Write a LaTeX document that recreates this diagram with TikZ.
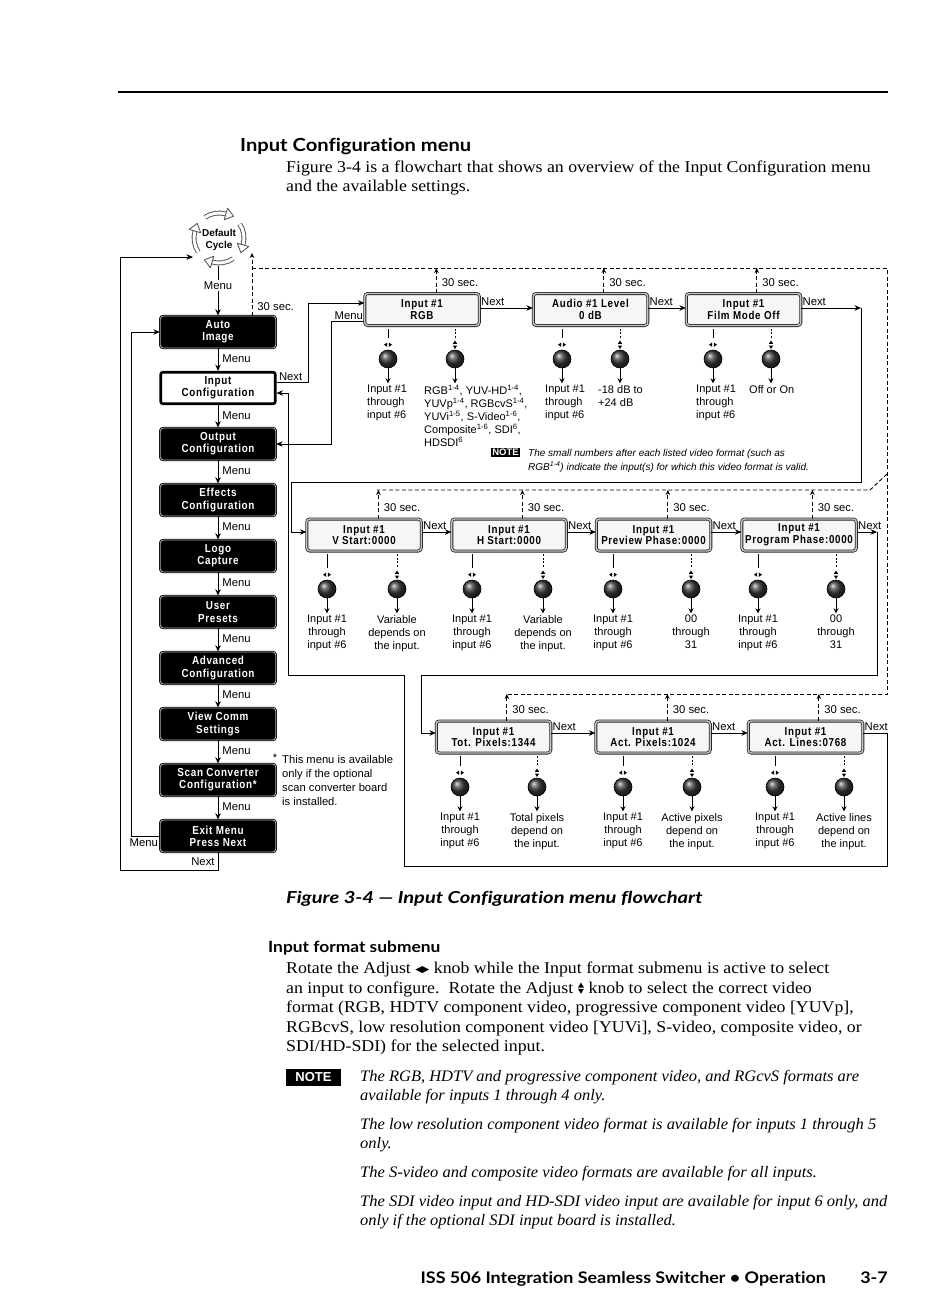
\documentclass[tikz,border=0pt]{standalone}
\usepackage{fontspec}
\setmainfont{Liberation Sans}
\newfontfamily\bodyserif[FakeStretch=1.08]{Liberation Serif}
\newfontfamily\bodyit[FakeStretch=1.03]{Liberation Serif}
\newfontfamily\headsans[FakeStretch=1.12,Ligatures=NoCommon]{Lato}
\newfontfamily\capsans[FakeStretch=1.22,Ligatures=NoCommon]{Lato}
\newfontfamily\lcdf[FakeStretch=0.85,LetterSpace=6]{Liberation Sans}
\newfontfamily\symf{DejaVu Sans}
\usetikzlibrary{arrows.meta,calc}
\newcommand\lrsym{\raisebox{0.5pt}{\symf\fontsize{9.5}{9.5}\selectfont ◀\kern-0.6pt▶}}
\tikzset{
  lbl/.style={font=\fontsize{11.3}{13}\selectfont, inner sep=0pt},
  dtxt/.style={font=\fontsize{11}{13}\selectfont, inner sep=0pt},
  conn/.style={line width=0.9pt},
  arr/.style={conn, -{Stealth[length=6.5pt,width=5.5pt]}},
  karr/.style={conn, -{Stealth[length=5pt,width=5pt]}},
  dsh/.style={line width=0.9pt, dash pattern=on 4pt off 2.5pt},
  darr/.style={dsh, -{Stealth[length=5pt,width=4.5pt]}},
  blk/.style={rounded corners=3pt, fill=black, draw=black, line width=0.8pt, double=gray!60, double distance=0.8pt, text=white, font=\lcdf\bfseries\fontsize{11.6}{12.2}\selectfont, minimum width=115.5pt, minimum height=32pt, align=center, inner sep=0pt},
  selbox/.style={rounded corners=2pt, fill=white, draw=black, line width=2.6pt, text=black, font=\lcdf\bfseries\fontsize{11.6}{12.2}\selectfont, minimum width=114.5pt, minimum height=31.5pt, align=center, inner sep=0pt},
  lcd/.style={rounded corners=3pt, fill=gray!7, draw=black!85, line width=0.8pt, double=gray!45, double distance=1.4pt, text=black, font=\lcdf\bfseries\fontsize{11.5}{11.6}\selectfont, minimum width=114.5pt, minimum height=32pt, align=center, inner sep=0pt},
  knob/.style={circle, draw=black, line width=0.6pt, shading=ball, ball color=gray!45!black, minimum size=18pt, inner sep=0pt},
  lrp/.pic={\fill (-0.8,-2.2) -- (-0.8,2.2) -- (-4,0) -- cycle; \fill (0.8,-2.2) -- (0.8,2.2) -- (4,0) -- cycle;},
  udp/.pic={\fill (-2.2,-0.8) -- (2.2,-0.8) -- (0,-4.2) -- cycle; \fill (-2.2,0.8) -- (2.2,0.8) -- (0,4.2) -- cycle;},
  udt/.pic={\fill (-3,-0.6) -- (3,-0.6) -- (0,-5.6) -- cycle; \fill (-3,0.6) -- (3,0.6) -- (0,5.6) -- cycle;}
}
\newcommand\knobL[4]{%
  \node[knob] (#1) at (#2,#3) {};
  \draw[line width=0.8pt] ($(#4.south -| #1.center)+(0,3)$) -- ($(#1.north)+(0,-12)$);
  \pic at ($(#1.north)+(0,-5)$) {lrp};
  \draw[karr] (#1.south) -- ++(0,15);
}
\newcommand\knobR[4]{%
  \node[knob] (#1) at (#2,#3) {};
  \draw[line width=0.8pt, dash pattern=on 2pt off 1.5pt] ($(#4.south -| #1.center)+(0,3)$) -- ($(#1.north)+(0,-12)$);
  \pic at ($(#1.north)+(0,-5)$) {udp};
  \draw[karr] (#1.south) -- ++(0,15);
}
\newcommand\upsec[3]{%
  \coordinate (#1u) at ($(#1.north west)+(#2,0)$);
  \draw[darr] (#1u) -- node[lbl, anchor=west, pos=0.4, xshift=5pt]{30 sec.} (#1u |- #3);
}
\begin{document}
\begin{tikzpicture}[x=1pt,y=-1pt, every node/.append style={inner sep=0pt}]
\useasboundingbox (0,0) rectangle (950,1292);
\fill[white] (0,0) rectangle (950,1292);
\draw[line width=1.6pt] (118,92) -- (888,92);

% ---------- page text top
\node[anchor=base west, font=\headsans\bfseries\fontsize{18}{20}\selectfont] (h1) at (240,152) {Input Configuration menu};
\node[anchor=base west, font=\bodyserif\fontsize{16.5}{19}\selectfont] (p1) at (286,172) {Figure 3-4 is a flowchart that shows an overview of the Input Configuration menu};
\node[anchor=base west, font=\bodyserif\fontsize{16.5}{19}\selectfont] (p2) at (286,191) {and the available settings.};

% ---------- default cycle
\coordinate (dcc) at (219,238);
\node[font=\bfseries\fontsize{10}{11.5}\selectfont, align=center] (dc) at (219,240) {Default\\Cycle};
\foreach \a in {236,326,56,146} {
  \pgfmathsetmacro\e{\a+50}
  \pgfmathsetmacro\f{\a+140}
  \draw[line width=4.8pt, black!70] ($(dcc)+(\a:25)$) arc[start angle=\a, end angle=\e, radius=25];
  \draw[line width=3pt, white] ($(dcc)+(\a:25)$) arc[start angle=\a, end angle=\e, radius=25];
  \filldraw[fill=white, draw=black!70, line width=0.8pt, line join=round] ($(dcc)+(\e:31)$) -- ($(dcc)+(\e:25)+(\f:8)$) -- ($(dcc)+(\e:19)$) -- cycle;
}

% ---------- left column
\node[blk] (n1) at (218,332) {Auto\\Image};
\node[selbox] (n2) at (218,388) {Input\\Configuration};
\node[blk] (n3) at (218,444) {Output\\Configuration};
\node[blk] (n4) at (218,500) {Effects\\Configuration};
\node[blk] (n5) at (218,556) {Logo\\Capture};
\node[blk] (n6) at (218,612) {User\\Presets};
\node[blk] (n7) at (218,668) {Advanced\\Configuration};
\node[blk] (n8) at (218,724) {View Comm\\Settings};
\node[blk] (n9) at (218,780) {Scan Converter\\Configuration*};
\node[blk] (n10) at (218,836) {Exit Menu\\Press Next};
\foreach \a/\b in {n1/n2,n2/n3,n3/n4,n4/n5,n5/n6,n6/n7,n7/n8,n8/n9,n9/n10}
  \draw[arr] (\a.south) -- node[lbl, anchor=west, xshift=4pt, yshift=1pt]{Menu} (\b.north);

\coordinate (cyb) at (218,266);
\draw[arr] (cyb) -- node[lbl, fill=white, inner sep=1.5pt, pos=0.4]{Menu} (n1.north);

\draw[arr] (n10.west) node[lbl, anchor=north east, xshift=-1.5pt, yshift=-2.5pt]{Menu} -- (131,836) -- (131,332) -- (n1.west);
\coordinate (cyl) at (193,257);
\draw[arr] (n10.south) -- node[lbl, anchor=east, xshift=-3pt]{Next} (218,870) -- (120,870) -- (120,257) -- (cyl);

\node[font=\fontsize{11}{11}\selectfont] (ast) at (275,758) {*};
\node[dtxt, font=\fontsize{11.2}{14}\selectfont, anchor=north west, align=left] (sn) at (282,755) {This menu is available\\only if the optional\\scan converter board\\is installed.};

% ---------- row 1
\node[lcd] (r1a) at (422,309.5) {Input \#1\\RGB};
\node[lcd] (r1b) at (590.5,309.5) {Audio \#1 Level\\0 dB};
\node[lcd] (r1c) at (743.5,309.5) {Input \#1\\Film Mode Off};
% ---------- row 2
\node[lcd] (r2a) at (364,535) {Input \#1\\V Start:0000};
\node[lcd] (r2b) at (509,535) {Input \#1\\H Start:0000};
\node[lcd] (r2c) at (653.5,535) {Input \#1\\Preview Phase:0000};
\node[lcd] (r2d) at (799,535) {Input \#1\\Program Phase:0000};
% ---------- row 3
\node[lcd] (r3a) at (493.5,737) {Input \#1\\Tot. Pixels:1344};
\node[lcd] (r3b) at (653,737) {Input \#1\\Act. Pixels:1024};
\node[lcd] (r3c) at (805.5,737) {Input \#1\\Act. Lines:0768};

% next arrows in rows
\draw[arr] ([yshift=1.5pt]r1a.east) node[lbl, anchor=south west, xshift=1pt, yshift=2pt]{Next} -- ([yshift=1.5pt]r1b.west);
\draw[arr] ([yshift=1.5pt]r1b.east) node[lbl, anchor=south west, xshift=1pt, yshift=2pt]{Next} -- ([yshift=1.5pt]r1c.west);
\draw[arr] ([yshift=3pt]r2a.east) node[lbl, anchor=south west, xshift=1pt, yshift=2pt]{Next} -- ([yshift=3pt]r2b.west);
\draw[arr] ([yshift=3pt]r2b.east) node[lbl, anchor=south west, xshift=1pt, yshift=2pt]{Next} -- ([yshift=3pt]r2c.west);
\draw[arr] ([yshift=3pt]r2c.east) node[lbl, anchor=south west, xshift=1pt, yshift=2pt]{Next} -- ([yshift=3pt]r2d.west);
\draw[arr] ([yshift=4pt]r3a.east) node[lbl, anchor=south west, xshift=1pt, yshift=2pt]{Next} -- ([yshift=4pt]r3b.west);
\draw[arr] ([yshift=4pt]r3b.east) node[lbl, anchor=south west, xshift=1pt, yshift=2pt]{Next} -- ([yshift=4pt]r3c.west);

% input config -> RGB
\draw[arr] ([yshift=6pt]n2.east) node[lbl, anchor=south west, xshift=2pt, yshift=1pt]{Next} -| (308,303) -- ([yshift=6.5pt]r1a.west);
% RGB menu -> output config
\draw[arr] ([yshift=-11.5pt]r1a.west) node[lbl, anchor=south east, xshift=-1pt, yshift=1pt]{Menu} -| ($(n3.east)+(55,0)$) -- (n3.east);
% film next -> row 2
\coordinate (fA) at (861,308);
\draw[arr] ([yshift=1.5pt]r1c.east) node[lbl, anchor=south west, xshift=1pt, yshift=2pt]{Next} -- (fA);
\draw[arr] (fA) -- (861,482) -- (291,482) -- (291,532) -- ([yshift=3pt]r2a.west);
% program next -> row 3
\coordinate (pA) at (877,532);
\draw[arr] ([yshift=3pt]r2d.east) node[lbl, anchor=south west, xshift=1pt, yshift=2pt]{Next} -- (pA);
\draw[arr] (pA) -- (877,675) -- (421,675) -- (421,733) -- ([yshift=4pt]r3a.west);
% act lines next -> input config
\draw[arr] ([yshift=4pt]r3c.east) node[lbl, anchor=south west, xshift=1pt, yshift=2pt]{Next} -| (887,866) -- (404,866) -- (404,675) -- (288,675) -- (288,393) -- ([yshift=-5pt]n2.east);

% ---------- dashed 30 sec network
\coordinate (dA) at (252,268);
\coordinate (dB) at (887,268);
\coordinate (dC) at (887,474);
\coordinate (dD) at (870,490);
\coordinate (dE) at (377,490);
\coordinate (dF) at (887,694);
\coordinate (dG) at (506,694);
\draw[dsh] (dA) -- (dB) -- (dF) -- (dG);
\draw[dsh] (dC) -- (dD) -- (dE);
\coordinate (n1u) at ($(n1.north)+(34,0)$);
\coordinate (cyr) at (252,253);
\draw[darr] (n1u) -- node[lbl, anchor=west, pos=0.14, xshift=5pt]{30 sec.} (cyr);
\upsec{r1a}{72}{dA}
\upsec{r1b}{71}{dA}
\upsec{r1c}{71}{dA}
\upsec{r2a}{72}{dE}
\upsec{r2b}{71}{dE}
\upsec{r2c}{72}{dE}
\upsec{r2d}{71}{dE}
\upsec{r3a}{71}{dG}
\upsec{r3b}{72}{dG}
\upsec{r3c}{71}{dG}

% ---------- knobs row 1
\knobL{k1a}{388}{359}{r1a}
\knobR{k1b}{455}{359}{r1a}
\knobL{k1c}{562}{359}{r1b}
\knobR{k1d}{620}{359}{r1b}
\knobL{k1e}{713}{359}{r1c}
\knobR{k1f}{771}{359}{r1c}
\node[dtxt, anchor=north west, align=left] (t1a) at (367,385) {Input \#1\\through\\input \#6};
\node[dtxt, anchor=north west, align=left] (t1b) at (424,385) {RGB\textsuperscript{1-4}, YUV-HD\textsuperscript{1-4},\\YUVp\textsuperscript{1-4}, RGBcvS\textsuperscript{1-4},\\YUVi\textsuperscript{1-5}, S-Video\textsuperscript{1-6},\\Composite\textsuperscript{1-6}, SDI\textsuperscript{6},\\HDSDI\textsuperscript{6}};
\node[dtxt, anchor=north west, align=left] (t1c) at (545,385) {Input \#1\\through\\input \#6};
\node[dtxt, anchor=north west, align=left] (t1d) at (598,385) {-18 dB to\\+24 dB};
\node[dtxt, anchor=north west, align=left] (t1e) at (696,385) {Input \#1\\through\\input \#6};
\node[dtxt, anchor=north west, align=left] (t1f) at (749,385) {Off or On};

\node[fill=black, text=white, font=\bfseries\fontsize{9.5}{10}\selectfont, inner xsep=1.5pt, inner ysep=1.2pt] (dn) at (505.5,452.5) {NOTE};
\node[anchor=base west, font=\itshape\fontsize{10}{12}\selectfont] (dnt1) at (528,456) {The small numbers after each listed video format (such as};
\node[anchor=base west, font=\itshape\fontsize{10}{12}\selectfont] (dnt2) at (528,470) {RGB\textsuperscript{1-4}) indicate the input(s) for which this video format is valid.};

% ---------- knobs row 2
\knobL{k2a}{327}{589}{r2a}
\knobR{k2b}{397}{589}{r2a}
\knobL{k2c}{472}{589}{r2b}
\knobR{k2d}{543}{589}{r2b}
\knobL{k2e}{613}{589}{r2c}
\knobR{k2f}{691}{589}{r2c}
\knobL{k2g}{758}{589}{r2d}
\knobR{k2h}{836}{589}{r2d}
\node[dtxt, anchor=north, align=center] (t2a) at (327,615) {Input \#1\\through\\input \#6};
\node[dtxt, anchor=north, align=center] (t2b) at (397,615) {Variable\\depends on\\the input.};
\node[dtxt, anchor=north, align=center] (t2c) at (472,615) {Input \#1\\through\\input \#6};
\node[dtxt, anchor=north, align=center] (t2d) at (543,615) {Variable\\depends on\\the input.};
\node[dtxt, anchor=north, align=center] (t2e) at (613,615) {Input \#1\\through\\input \#6};
\node[dtxt, anchor=north, align=center] (t2f) at (691,615) {00\\through\\31};
\node[dtxt, anchor=north, align=center] (t2g) at (758,615) {Input \#1\\through\\input \#6};
\node[dtxt, anchor=north, align=center] (t2h) at (836,615) {00\\through\\31};

% ---------- knobs row 3
\knobL{k3a}{460}{787}{r3a}
\knobR{k3b}{537}{787}{r3a}
\knobL{k3c}{623}{787}{r3b}
\knobR{k3d}{692}{787}{r3b}
\knobL{k3e}{775}{787}{r3c}
\knobR{k3f}{844}{787}{r3c}
\node[dtxt, anchor=north, align=center] (t3a) at (460,813) {Input \#1\\through\\input \#6};
\node[dtxt, anchor=north, align=center] (t3b) at (537,813) {Total pixels\\depend on\\the input.};
\node[dtxt, anchor=north, align=center] (t3c) at (623,813) {Input \#1\\through\\input \#6};
\node[dtxt, anchor=north, align=center] (t3d) at (692,813) {Active pixels\\depend on\\the input.};
\node[dtxt, anchor=north, align=center] (t3e) at (775,813) {Input \#1\\through\\input \#6};
\node[dtxt, anchor=north, align=center] (t3f) at (844,813) {Active lines\\depend on\\the input.};

% ---------- caption and bottom text
\node[anchor=base west, font=\capsans\bfseries\itshape\fontsize{16.5}{18}\selectfont] (cap) at (286,903) {Figure 3-4 — Input Configuration menu flowchart};
\node[anchor=base west, font=\headsans\bfseries\fontsize{15.5}{18}\selectfont] (h2) at (268,952) {Input format submenu};
\node[anchor=base west, font=\bodyserif\fontsize{16.5}{19}\selectfont] (q1) at (286,973) {Rotate the Adjust \lrsym{} knob while the Input format submenu is active to select};
\node[anchor=base west, font=\bodyserif\fontsize{16.5}{19}\selectfont] (q2a) at (286,993) {an input to configure.\ \ Rotate the Adjust};
\pic at ($(q2a.base east)+(7.5,-4.8)$) {udt};
\node[anchor=base west, font=\bodyserif\fontsize{16.5}{19}\selectfont] (q2b) at ($(q2a.base east)+(15,0)$) {knob to select the correct video};
\node[anchor=base west, font=\bodyserif\fontsize{16.5}{19}\selectfont] (q3) at (286,1012) {format (RGB, HDTV component video, progressive component video [YUVp],};
\node[anchor=base west, font=\bodyserif\fontsize{16.5}{19}\selectfont] (q4) at (286,1032) {RGBcvS, low resolution component video [YUVi], S-video, composite video, or};
\node[anchor=base west, font=\bodyserif\fontsize{16.5}{19}\selectfont] (q5) at (286,1051) {SDI/HD-SDI) for the selected input.};

\node[fill=black, text=white, font=\bfseries\fontsize{13}{13}\selectfont, minimum width=55pt, minimum height=17pt] (nb) at (313.5,1077) {NOTE};
\node[anchor=base west, font=\bodyit\itshape\fontsize{16}{19}\selectfont] (m1) at (360,1081) {The RGB, HDTV and progressive component video, and RGcvS formats are};
\node[anchor=base west, font=\bodyit\itshape\fontsize{16}{19}\selectfont] (m2) at (360,1100) {available for inputs 1 through 4 only.};
\node[anchor=base west, font=\bodyit\itshape\fontsize{16}{19}\selectfont] (m3) at (360,1129) {The low resolution component video format is available for inputs 1 through 5};
\node[anchor=base west, font=\bodyit\itshape\fontsize{16}{19}\selectfont] (m4) at (360,1148) {only.};
\node[anchor=base west, font=\bodyit\itshape\fontsize{16}{19}\selectfont] (m5) at (360,1177) {The S-video and composite video formats are available for all inputs.};
\node[anchor=base west, font=\bodyit\itshape\fontsize{16}{19}\selectfont] (m6) at (360,1206) {The SDI video input and HD-SDI video input are available for input 6 only, and};
\node[anchor=base west, font=\bodyit\itshape\fontsize{16}{19}\selectfont] (m7) at (360,1225) {only if the optional SDI input board is installed.};

\node[anchor=base east, font=\headsans\bfseries\fontsize{16}{18}\selectfont] (ft) at (826,1283) {ISS 506 Integration Seamless Switcher • Operation};
\node[anchor=base east, font=\headsans\bfseries\fontsize{16}{18}\selectfont] (pg) at (888,1283) {3-7};
\end{tikzpicture}
\end{document}
